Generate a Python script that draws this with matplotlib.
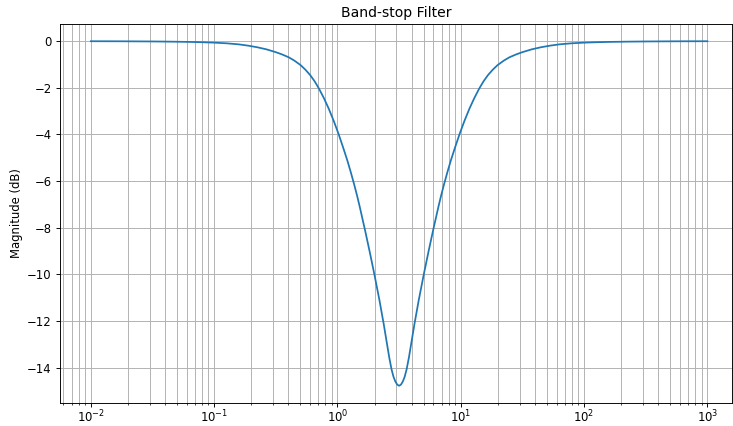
import matplotlib
matplotlib.use("Agg")
import numpy as np
import matplotlib.pyplot as plt

# Magnitude response: log10 of angular frequency (rad/s) and gain in dB
log_freq = [-2.0, -1.75, -1.5, -1.35, -1.2, -1.1, -1.0, -0.9, -0.8, -0.725,
            -0.65, -0.575, -0.5, -0.45, -0.395, -0.35, -0.3, -0.26, -0.22,
            -0.185, -0.15, -0.11, -0.07, -0.03, 0.01, 0.045, 0.08, 0.11,
            0.137, 0.16, 0.18, 0.224, 0.26, 0.3, 0.34, 0.375, 0.4, 0.42,
            0.439, 0.455, 0.47, 0.485, 0.5,
            0.515, 0.53, 0.545, 0.561, 0.58, 0.6, 0.625, 0.66, 0.7, 0.74,
            0.776, 0.82, 0.84, 0.863, 0.89, 0.92, 0.955, 0.99, 1.03, 1.07,
            1.11, 1.15, 1.185, 1.22, 1.26, 1.3, 1.35, 1.395, 1.45, 1.5,
            1.575, 1.65, 1.725, 1.8, 1.9, 2.0, 2.1, 2.2, 2.35, 2.5, 2.75, 3.0]
mag_db = [-0.001, -0.004, -0.011, -0.019, -0.031, -0.044, -0.062, -0.09,
          -0.135, -0.19, -0.26, -0.35, -0.47, -0.565, -0.69, -0.83, -1.02,
          -1.22, -1.46, -1.72, -2.03, -2.44, -2.90, -3.42, -3.99, -4.54,
          -5.11, -5.65, -6.17, -6.64, -7.08, -8.11, -8.99, -10.01, -11.09,
          -12.12, -12.92, -13.56, -14.08, -14.40, -14.60, -14.73, -14.78,
          -14.73, -14.60, -14.40, -14.08, -13.56, -12.92, -12.12, -11.09,
          -10.01, -8.99, -8.11, -7.08, -6.64, -6.17, -5.65, -5.11, -4.54,
          -3.99, -3.42, -2.90, -2.44, -2.03, -1.72, -1.46, -1.22, -1.02,
          -0.83, -0.69, -0.565, -0.47, -0.35, -0.26, -0.19, -0.135, -0.09,
          -0.062, -0.044, -0.031, -0.019, -0.011, -0.004, -0.001]

freq = np.power(10.0, log_freq)

DPI = 84
fig = plt.figure(figsize=(734 / DPI, 426 / DPI), dpi=DPI)
ax = fig.add_axes([60 / 734, 23 / 426, 672 / 734, 379 / 426])
ax.semilogx(freq, mag_db, color="#1f77b4", linewidth=1.5)
ax.set_xlim(10 ** -2.25, 10 ** 3.2)
ax.set_title("Band-stop Filter")
ax.set_ylabel("Magnitude (dB)")
ax.grid(True, which="both")
ax.tick_params(axis="x", which="major", pad=1.5)
fig.savefig("out.png", dpi=DPI)
